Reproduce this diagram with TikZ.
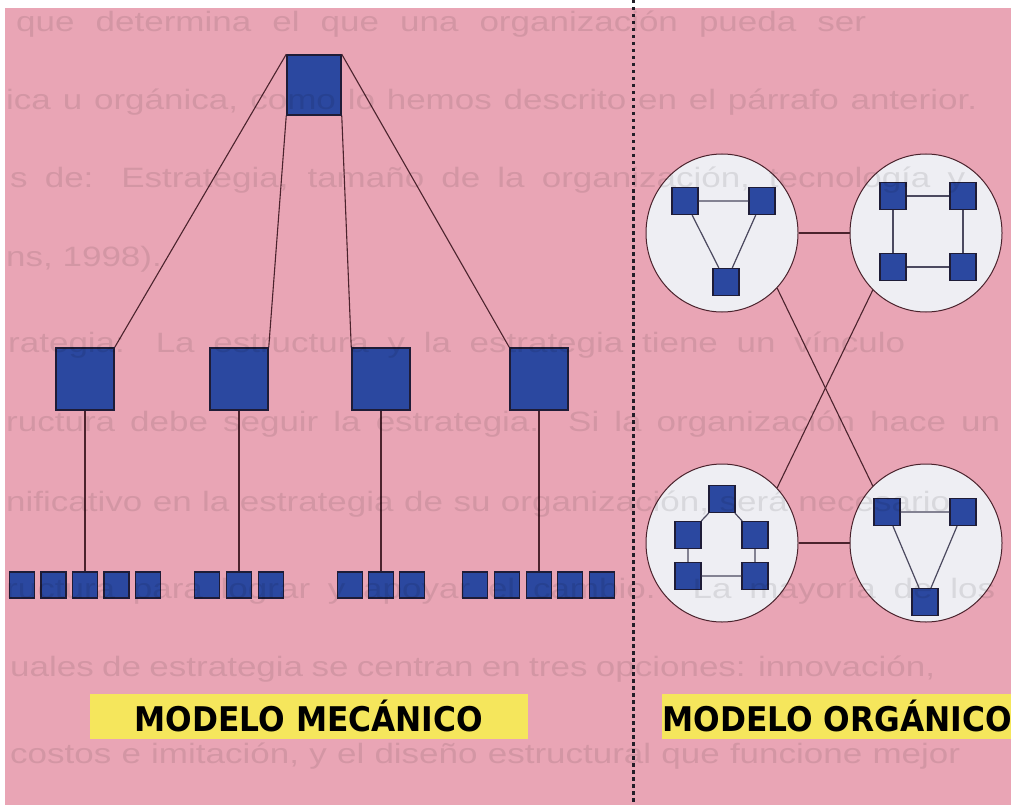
\documentclass[tikz,border=0pt]{standalone}
\usepackage{fontspec}
\setmainfont{Liberation Sans}
\newfontfamily\labelfont[FakeStretch=0.92]{DejaVu Sans}
\newfontfamily\ghostfont[FakeStretch=1.25]{Liberation Sans}
\usetikzlibrary{shapes.geometric}
\definecolor{pinkbg}{RGB}{233,165,181}
\definecolor{boxblue}{RGB}{43,72,160}
\definecolor{boxedge}{RGB}{30,28,55}
\definecolor{circfill}{RGB}{238,238,243}
\definecolor{labelyellow}{RGB}{245,230,92}
\definecolor{linecol}{RGB}{75,35,45}
\definecolor{sepcol}{RGB}{35,30,40}

\begin{document}
\begin{tikzpicture}[x=1pt,y=-1pt,
    bigbox/.style={rectangle,draw=boxedge,line width=1.5pt,fill=boxblue,
      minimum width=58pt,minimum height=62pt,inner sep=0pt},
    leafbox/.style={rectangle,draw=boxedge,line width=1.4pt,fill=boxblue,
      minimum width=25pt,minimum height=26pt,inner sep=0pt},
    cellbox/.style={rectangle,draw=boxedge,line width=1.2pt,fill=boxblue,
      minimum width=26pt,minimum height=27pt,inner sep=0pt},
    team/.style={ellipse,draw=linecol,line width=1pt,fill=circfill,
      minimum width=152pt,minimum height=158pt,inner sep=0pt},
    link/.style={draw=linecol,line width=1.1pt},
    cellink/.style={draw=boxedge!80,line width=1.2pt},
    modelname/.style={fill=labelyellow,inner sep=0pt,minimum height=45pt,
      font={\fontsize{34}{40}\labelfont\bfseries}},
    ghost/.style={anchor=base west,inner sep=0pt,text=black,text opacity=0.09,
      font={\fontsize{28}{34}\ghostfont}}]
    \useasboundingbox (0,0) rectangle (1011,805);
    % paper
    \fill[white] (0,0) rectangle (1011,805);
    \fill[pinkbg] (5,8) rectangle (1011,805);
    % dotted separator
    \coordinate (septop) at (633,0);
    \coordinate (sepbot) at (633,805);
    \draw[sepcol,line width=3pt,dash pattern=on 3.5pt off 3.5pt] (septop) -- (sepbot);

    % mechanical model: top
    \node[rectangle,draw=boxedge,line width=1.5pt,fill=boxblue,minimum width=54pt,
      minimum height=60pt,inner sep=0pt] (top) at (314,85) {};
    % middle level
    \node[bigbox] (m1) at (85,379) {};
    \node[bigbox] (m2) at (239,379) {};
    \node[bigbox] (m3) at (381,379) {};
    \node[bigbox] (m4) at (539,379) {};
    \draw[link] (top.north west) -- (m1.north east);
    \draw[link] (top.south west) -- (m2.north east);
    \draw[link] (top.south east) -- (m3.north west);
    \draw[link] (top.north east) -- (m4.north west);
    % bottom level, first group
    \node[leafbox] (b11) at (22,585) {};
    \node[leafbox] (b12) at (53.5,585) {};
    \node[leafbox] (b13) at (85,585) {};
    \node[leafbox] (b14) at (116.5,585) {};
    \node[leafbox] (b15) at (148,585) {};
    % second group
    \node[leafbox] (b21) at (207,585) {};
    \node[leafbox] (b22) at (239,585) {};
    \node[leafbox] (b23) at (271,585) {};
    % third group
    \node[leafbox] (b31) at (350,585) {};
    \node[leafbox] (b32) at (381,585) {};
    \node[leafbox] (b33) at (412,585) {};
    % fourth group
    \node[leafbox] (b41) at (475,585) {};
    \node[leafbox] (b42) at (507,585) {};
    \node[leafbox] (b43) at (539,585) {};
    \node[leafbox] (b44) at (570,585) {};
    \node[leafbox] (b45) at (602,585) {};
    \draw[link] (m1.south) -- (b13.north);
    \draw[link] (m2.south) -- (b22.north);
    \draw[link] (m3.south) -- (b32.north);
    \draw[link] (m4.south) -- (b43.north);

    % organic model: the four teams
    \node[team] (c1) at (722,233) {};
    \node[team] (c2) at (926,233) {};
    \node[team] (c3) at (722,543) {};
    \node[team] (c4) at (926,543) {};
    \draw[link] (c1) -- (c2);
    \draw[link] (c3) -- (c4);
    \draw[link] (c1.-45) -- (c4.133);
    \draw[link] (c2.-133) -- (c3.45);
    % team 1, triangle
    \node[cellbox] (c1a) at (685,201) {};
    \node[cellbox] (c1b) at (762,201) {};
    \node[cellbox] (c1c) at (726,282) {};
    \draw[cellink] (c1a) -- (c1b) -- (c1c) -- (c1a);
    % team 2, square
    \node[cellbox] (c2a) at (893,196) {};
    \node[cellbox] (c2b) at (963,196) {};
    \node[cellbox] (c2c) at (893,267) {};
    \node[cellbox] (c2d) at (963,267) {};
    \draw[cellink] (c2a) -- (c2b) -- (c2d) -- (c2c) -- (c2a);
    % team 3, pentagon
    \node[cellbox] (c3a) at (722,499) {};
    \node[cellbox] (c3b) at (688,535) {};
    \node[cellbox] (c3c) at (755,535) {};
    \node[cellbox] (c3d) at (688,576) {};
    \node[cellbox] (c3e) at (755,576) {};
    \draw[cellink] (c3a) -- (c3b) -- (c3d) -- (c3e) -- (c3c) -- (c3a);
    % team 4, triangle
    \node[cellbox] (c4a) at (887,512) {};
    \node[cellbox] (c4b) at (963,512) {};
    \node[cellbox] (c4c) at (925,602) {};
    \draw[cellink] (c4a) -- (c4b) -- (c4c) -- (c4a);

    % model names
    \node[modelname,minimum width=438pt] (mecanico) at (309,716) {MODELO MECÁNICO};
    \node[modelname,minimum width=348pt] (organico) at (837,716) {MODELO ORGÁNICO};

    % text of the page showing through
    \node[ghost] (g1) at (16,32) {\makebox[850pt][s]{que determina el que una organización pueda ser}};
    \node[ghost] (g2) at (6,110) {\makebox[971pt][s]{ica u orgánica, como lo hemos descrito en el párrafo anterior.}};
    \node[ghost] (g3) at (10,188) {\makebox[955pt][s]{s de: Estrategia, tamaño de la organización, tecnología y}};
    \node[ghost] (g4) at (6,266) {ns, 1998).};
    \node[ghost] (g5) at (8,352) {\makebox[897pt][s]{rategia: La estructura y la estrategia tiene un vínculo}};
    \node[ghost] (g6) at (6,431) {\makebox[994pt][s]{ructura debe seguir la estrategia. Si la organización hace un}};
    \node[ghost] (g7) at (6,511) {\makebox[944pt][s]{nificativo en la estrategia de su organización, será necesario}};
    \node[ghost] (g8) at (6,598) {\makebox[989pt][s]{ructura para lograr y apoyar el cambio. La mayoría de los}};
    \node[ghost] (g9) at (10,676) {\makebox[925pt][s]{uales de estrategia se centran en tres opciones: innovación,}};
    \node[ghost] (g10) at (10,763) {\makebox[950pt][s]{costos e imitación, y el diseño estructural que funcione mejor}};
\end{tikzpicture}
\end{document}
